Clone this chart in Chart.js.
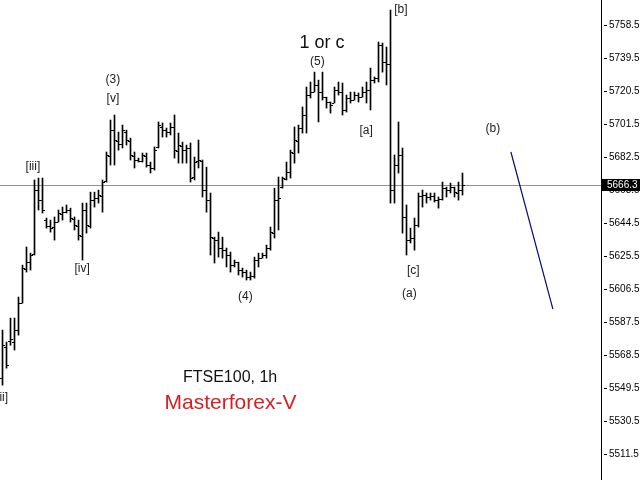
<!DOCTYPE html>
<html>
<head>
<meta charset="utf-8">
<script src="https://cdn.jsdelivr.net/npm/chart.js@4/dist/chart.umd.min.js"></script>
<style>
  html, body { margin: 0; padding: 0; background: #fff; }
  canvas { display: block; }
</style>
</head>
<body>
<canvas id="chart" width="640" height="480"></canvas>
<script>
// FTSE100 1h bars (values in index points)
const highs = [5582.9,5576.0,5589.8,5589.8,5601.9,5620.3,5630.7,5627.2,5669.3,5670.4,
  5670.4,5647.4,5646.2,5648.0,5652.0,5653.7,5654.9,5653.1,5648.0,5646.2,
  5656.0,5656.0,5662.3,5662.3,5663.5,5669.3,5685.4,5703.8,5706.7,5696.9,
  5700.9,5698.0,5693.4,5685.4,5681.9,5684.8,5684.8,5679.6,5688.3,5702.7,
  5702.1,5699.2,5702.1,5706.7,5696.3,5691.1,5689.4,5690.6,5682.5,5692.3,
  5680.8,5676.7,5661.8,5636.4,5639.3,5636.4,5630.1,5627.8,5623.2,5622.0,
  5618.6,5617.4,5616.3,5624.9,5627.2,5627.2,5631.8,5642.2,5664.6,5671.0,
  5671.0,5679.6,5686.5,5699.8,5700.9,5711.3,5722.8,5725.7,5731.4,5726.8,
  5731.4,5717.0,5714.2,5722.8,5725.7,5725.1,5718.2,5719.9,5719.9,5719.4,
  5722.8,5725.7,5733.7,5728.6,5748.7,5748.1,5745.8,5767.1,5683.7,5702.7,
  5687.7,5654.9,5641.6,5647.4,5661.8,5663.5,5661.8,5661.8,5661.8,5659.5,
  5668.1,5665.2,5667.5,5665.2,5668.1,5673.3];
const lows = [5551.2,5561.0,5574.2,5571.4,5580.0,5598.4,5616.3,5617.4,5626.1,5652.0,
  5650.3,5641.6,5639.3,5634.7,5645.1,5646.2,5650.3,5645.1,5640.5,5634.7,
  5623.2,5638.7,5641.6,5653.7,5656.0,5650.8,5668.1,5677.9,5677.9,5686.5,
  5687.7,5689.4,5680.8,5676.2,5679.6,5679.6,5676.7,5673.3,5675.0,5687.7,
  5694.0,5694.0,5695.2,5681.9,5679.0,5679.0,5679.0,5668.1,5669.3,5676.2,
  5659.5,5650.8,5626.1,5621.5,5624.9,5624.3,5619.2,5616.3,5619.2,5614.6,
  5613.4,5611.7,5611.7,5612.8,5619.2,5624.3,5624.3,5628.9,5635.9,5640.5,
  5664.6,5669.3,5670.4,5679.0,5684.8,5696.3,5696.3,5716.5,5719.9,5702.7,
  5715.3,5710.7,5707.8,5713.6,5718.2,5706.7,5708.4,5713.6,5715.3,5714.2,
  5717.0,5713.6,5709.6,5725.1,5725.7,5731.4,5724.0,5656.0,5656.0,5673.3,
  5638.7,5626.1,5633.0,5628.9,5642.2,5653.7,5656.0,5657.7,5656.6,5653.1,
  5657.7,5659.5,5661.8,5659.5,5657.7,5660.6];
const opens = [5555.2,5573.0,5576.5,5576.0,5583.0,5598.5,5618.0,5622.0,5626.5,5663.5,
  5658.0,5646.2,5642.8,5642.0,5645.1,5650.0,5651.0,5652.0,5647.0,5643.0,
  5637.0,5652.0,5643.0,5657.7,5659.0,5660.0,5668.5,5683.0,5698.0,5692.0,
  5690.0,5697.0,5692.0,5683.0,5680.8,5680.5,5683.0,5678.0,5676.0,5688.0,
  5700.0,5698.0,5697.0,5700.0,5686.0,5689.0,5686.5,5687.7,5671.0,5680.0,
  5680.5,5663.5,5657.7,5636.0,5634.7,5630.0,5629.0,5626.0,5620.3,5622.0,
  5617.4,5616.3,5613.4,5614.0,5623.0,5624.3,5626.0,5630.0,5639.0,5657.7,
  5665.0,5670.0,5674.0,5685.0,5692.0,5699.0,5706.7,5718.2,5720.0,5724.0,
  5720.0,5717.0,5714.0,5713.6,5721.0,5720.0,5709.6,5716.5,5715.3,5718.0,
  5717.0,5720.0,5721.0,5726.8,5728.0,5747.0,5737.0,5736.0,5663.5,5678.0,
  5683.7,5648.0,5634.7,5636.0,5643.4,5660.0,5660.6,5659.5,5660.0,5657.7,
  5658.5,5664.6,5663.5,5665.2,5662.0,5663.5];
const closes = [5574.2,5562.7,5577.7,5583.0,5598.5,5618.6,5622.0,5626.1,5663.5,5657.7,
  5652.0,5642.8,5641.6,5645.1,5650.3,5650.8,5652.0,5647.4,5643.4,5637.6,
  5652.0,5643.4,5657.7,5659.0,5660.6,5668.1,5683.7,5698.0,5692.3,5690.0,
  5698.0,5692.3,5683.7,5680.8,5680.5,5683.7,5677.9,5676.2,5686.5,5700.9,
  5698.0,5696.9,5699.8,5686.5,5689.4,5686.5,5687.7,5670.4,5679.6,5680.8,
  5663.5,5657.7,5636.4,5634.7,5630.1,5628.9,5626.1,5620.3,5622.0,5617.4,
  5616.3,5613.4,5614.0,5623.2,5624.3,5626.1,5630.1,5639.3,5657.7,5658.9,
  5670.4,5673.9,5685.4,5692.3,5699.0,5706.7,5718.2,5719.9,5724.0,5719.9,
  5717.0,5714.2,5712.4,5721.1,5719.9,5709.6,5716.5,5715.3,5718.2,5717.0,
  5719.9,5721.0,5726.8,5728.0,5747.0,5737.2,5736.0,5663.5,5677.9,5683.7,
  5648.0,5634.7,5635.9,5643.4,5660.0,5660.6,5659.5,5660.0,5657.7,5658.5,
  5664.6,5663.5,5665.2,5662.3,5663.5,5666.3];

const tickValues = [5511.5,5530.5,5549.5,5568.5,5587.5,5606.5,5625.5,5644.5,
  5663.5,5682.5,5701.5,5720.5,5739.5,5758.5];
const lastPrice = 5666.3;

// projected (b)->(c) line: [bar index, price]
const trendX = [127.1, 137.6];
const trendY = [5685.4, 5595.0];

// wave labels: text, bar index, price
const waveText = ["[ii]","[iii]","(3)","[v]","[iv]","(4)","(5)","[a]","[b]","[c]","(a)","(b)"];
const waveX    = [-0.1, 7.6, 27.6, 27.6, 19.9, 60.7, 78.7, 90.9, 99.6, 102.7, 101.7, 122.6];
const waveY    = [5543.8, 5676.8, 5726.8, 5715.9, 5618.1, 5601.9, 5737.2, 5697.5, 5767.1, 5616.9, 5603.7, 5698.6];

const textFont = "'Liberation Sans', Arial, sans-serif";

const ohlcPlugin = {
  id: "ohlc",
  beforeDatasetsDraw(chart) {
    const { ctx, chartArea, scales: { y } } = chart;
    const py = Math.round(y.getPixelForValue(lastPrice)) + 0.5;
    ctx.save();
    ctx.strokeStyle = "#8a949c";
    ctx.lineWidth = 1;
    ctx.beginPath();
    ctx.moveTo(chartArea.left, py);
    ctx.lineTo(chartArea.right, py);
    ctx.stroke();
    ctx.restore();
  },
  afterDatasetsDraw(chart) {
    const { ctx, scales: { x, y } } = chart;
    ctx.save();
    ctx.fillStyle = "#000";
    for (let i = 0; i < opens.length; i++) {
      const px = x.getPixelForValue(i);
      const po = Math.round(y.getPixelForValue(opens[i]));
      const pc = Math.round(y.getPixelForValue(closes[i]));
      ctx.fillRect(px - 2.5, po, 2, 1);
      ctx.fillRect(px + 0.5, pc, 2, 1);
    }
    // wave labels
    ctx.fillStyle = "#222";
    ctx.font = "12px " + textFont;
    ctx.textAlign = "center";
    ctx.textBaseline = "middle";
    waveText.forEach((t, i) => {
      ctx.fillText(t, x.getPixelForValue(waveX[i]), y.getPixelForValue(waveY[i]));
    });
    ctx.fillStyle = "#111";
    ctx.font = "18px " + textFont;
    ctx.fillText("1 or c", x.getPixelForValue(79.9), y.getPixelForValue(5748.2));
    ctx.font = "16px " + textFont;
    ctx.fillText("FTSE100, 1h", x.getPixelForValue(56.9), y.getPixelForValue(5555.3));
    ctx.fillStyle = "#d81e1e";
    ctx.font = "21px " + textFont;
    ctx.fillText("Masterforex-V", x.getPixelForValue(57.0), y.getPixelForValue(5540.9));
    ctx.restore();
  },
  afterDraw(chart) {
    const { ctx, chartArea, scales: { y } } = chart;
    ctx.save();
    ctx.fillStyle = "#000";
    tickValues.forEach(v => {
      ctx.fillRect(chartArea.right + 3, Math.round(y.getPixelForValue(v)), 3, 1);
    });
    const py = Math.round(y.getPixelForValue(lastPrice));
    ctx.fillRect(chartArea.right + 1, py - 6, 40, 12);
    ctx.fillStyle = "#fff";
    ctx.font = "10px " + textFont;
    ctx.textAlign = "left";
    ctx.textBaseline = "middle";
    ctx.fillText(lastPrice.toFixed(1), chartArea.right + 6, py);
    ctx.restore();
  }
};

new Chart(document.getElementById("chart"), {
  type: "bar",
  data: {
    datasets: [
      {
        data: lows.map((l, i) => ({ x: i, y: [l, highs[i]] })),
        backgroundColor: "#000",
        borderWidth: 0,
        barThickness: 1
      },
      {
        type: "line",
        data: trendX.map((tx, i) => ({ x: tx, y: trendY[i] })),
        borderColor: "#0a0a78",
        borderWidth: 1.2,
        pointRadius: 0
      }
    ]
  },
  options: {
    responsive: false,
    animation: false,
    devicePixelRatio: 1,
    layout: { padding: 0 },
    plugins: { legend: { display: false }, tooltip: { enabled: false } },
    scales: {
      x: {
        type: "linear",
        display: false,
        offset: false,
        grid: { offset: false },
        min: -0.625,
        max: 149.625
      },
      y: {
        position: "right",
        min: 5496.6,
        max: 5772.9,
        afterBuildTicks: s => { s.ticks = tickValues.map(v => ({ value: v })); },
        afterFit: s => { s.width = 39; s.paddingTop = 0; s.paddingBottom = 0; },
        border: { display: true, color: "#000", width: 1 },
        grid: { display: true, drawOnChartArea: false, drawTicks: false },
        ticks: {
          padding: 8,
          color: "#000",
          font: { family: textFont, size: 10 },
          callback: v => v.toFixed(1)
        }
      }
    }
  },
  plugins: [ohlcPlugin]
});
</script>
</body>
</html>
